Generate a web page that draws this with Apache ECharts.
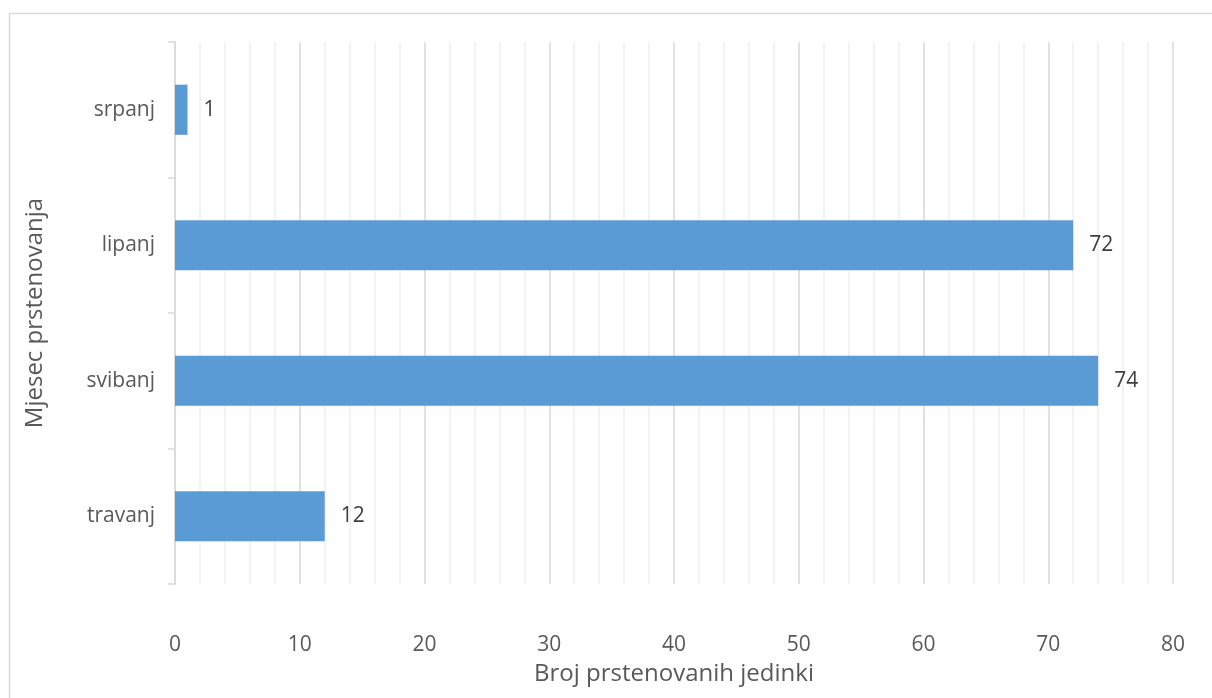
<!DOCTYPE html>
<html><head><meta charset="utf-8">
<script src="https://cdn.jsdelivr.net/npm/echarts@6/dist/echarts.min.js"></script>
<style>html,body{margin:0;padding:0;background:#fff}#c{width:1212px;height:698px}</style>
</head><body><div id="c"></div>
<script>
const categories = ['travanj', 'svibanj', 'lipanj', 'srpanj'];
const values = [12, 74, 72, 1];
const xTicks = [0, 10, 20, 30, 40, 50, 60, 70, 80];
const chart = echarts.init(document.getElementById('c'));
chart.setOption({
  animation: false,
  graphic: [{type: 'rect', shape: {x: 9.5, y: 13.5, width: 1220, height: 700}, style: {fill: 'none', stroke: '#d9d9d9', lineWidth: 1.5}, silent: true}],
  grid: {left: 175, right: 39, top: 42, bottom: 114},
  xAxis: {
    type: 'value', min: xTicks[0], max: xTicks[xTicks.length - 1], interval: 10,
    name: 'Broj prstenovanih jedinki', nameLocation: 'middle', nameGap: 78,
    nameTextStyle: {fontFamily: 'Open Sans', fontSize: 24, color: '#595959'},
    axisLine: {show: false}, axisTick: {show: false},
    axisLabel: {fontFamily: 'Open Sans', fontSize: 21, color: '#595959', margin: 51},
    splitLine: {show: true, lineStyle: {color: '#d9d9d9', width: 1.5}},
    minorTick: {show: false, splitNumber: 5},
    minorSplitLine: {show: true, lineStyle: {color: '#f0f0f0', width: 1.5}}
  },
  yAxis: {
    type: 'category', data: categories,
    name: 'Mjesec prstenovanja', nameLocation: 'middle', nameGap: 128, nameRotate: 90,
    nameTextStyle: {fontFamily: 'Open Sans', fontSize: 24, color: '#595959'},
    axisLine: {show: true, lineStyle: {color: '#d9d9d9', width: 1.5}},
    axisTick: {show: true, alignWithLabel: false, length: 7, lineStyle: {color: '#d9d9d9', width: 1.5}},
    axisLabel: {fontFamily: 'Open Sans', fontSize: 21, color: '#595959', margin: 20}
  },
  series: [{
    type: 'bar', data: values, barCategoryGap: '63%',
    itemStyle: {color: '#5b9bd5'},
    label: {show: true, position: 'right', distance: 16, fontFamily: 'Open Sans', fontSize: 21, color: '#404040'}
  }]
});
</script></body></html>
